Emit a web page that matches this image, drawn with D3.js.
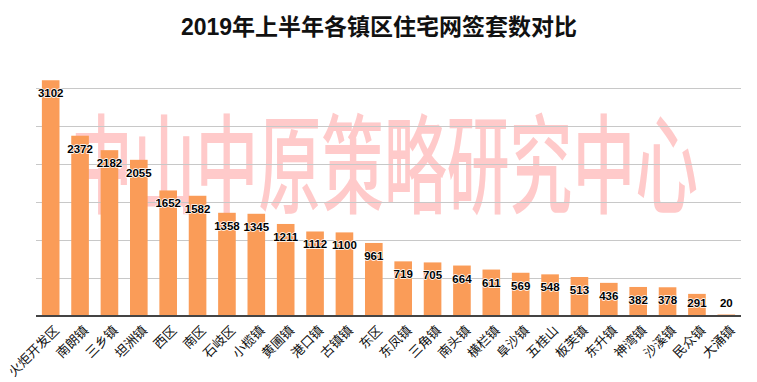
<!DOCTYPE html>
<html>
<head>
<meta charset="utf-8">
<script src="https://cdn.jsdelivr.net/npm/d3@7/dist/d3.min.js"></script>
<style>
  html, body { margin: 0; padding: 0; background: #fff; }
  svg { display: block; }
</style>
</head>
<body>
<script>
const title = "2019年上半年各镇区住宅网签套数对比";
const watermark = "中山中原策略研究中心";
const categories = ["火炬开发区","南朗镇","三乡镇","坦洲镇","西区","南区","石岐区","小榄镇","黄圃镇","港口镇","古镇镇","东区","东凤镇","三角镇","南头镇","横栏镇","阜沙镇","五桂山","板芙镇","东升镇","神湾镇","沙溪镇","民众镇","大涌镇"];
const values = [3102,2372,2182,2055,1652,1582,1358,1345,1211,1112,1100,961,719,705,664,611,569,548,513,436,382,378,291,20];
const gridTicks = [500,1000,1500,2000,2500,3000];

const W = 757, H = 382;
const svg = d3.select("body").append("svg").attr("width", W).attr("height", H);

const x = d3.scaleBand().domain(categories).range([36, 741]).paddingInner(0.4).paddingOuter(0.2);
const y = d3.scaleLinear().domain([0, 3500]).range([316, 50]);

// title
svg.append("text")
  .attr("x", 379).attr("y", 35)
  .attr("text-anchor", "middle")
  .attr("font-family", "'Liberation Sans','Noto Sans CJK SC',sans-serif")
  .attr("font-weight", "bold")
  .attr("font-size", 23)
  .attr("fill", "#111")
  .text(title);

// watermark
svg.append("text")
  .attr("x", 70).attr("y", 205)
  .attr("textLength", 628)
  .attr("lengthAdjust", "spacingAndGlyphs")
  .attr("font-family", "'Noto Sans CJK SC',sans-serif")
  .attr("font-weight", 500)
  .attr("font-size", 108)
  .attr("fill", "#ffcaca")
  .text(watermark);

// grid
svg.append("g").selectAll("line").data(gridTicks).join("line")
  .attr("x1", 36).attr("x2", 741)
  .attr("y1", d => Math.round(y(d)) + 0.5).attr("y2", d => Math.round(y(d)) + 0.5)
  .attr("stroke", "#c8c8c8").attr("stroke-width", 1);

// bars
svg.append("g").selectAll("rect").data(values).join("rect")
  .attr("x", (d, i) => x(categories[i]))
  .attr("width", x.bandwidth())
  .attr("y", d => y(d))
  .attr("height", d => y(0) - y(d))
  .attr("fill", "#fa9c58");

// axis line
svg.append("line")
  .attr("x1", 36).attr("x2", 741)
  .attr("y1", y(0)).attr("y2", y(0))
  .attr("stroke", "#444").attr("stroke-width", 2);

// value labels
svg.append("g").selectAll("text").data(values).join("text")
  .attr("x", (d, i) => x(categories[i]) + x.bandwidth() / 2)
  .attr("y", d => Math.min(y(d) + 17, 307))
  .attr("text-anchor", "middle")
  .attr("font-family", "'Liberation Sans',Arial,sans-serif")
  .attr("font-weight", "bold")
  .attr("font-size", 11.5)
  .attr("fill", "#000")
  .attr("stroke", "#fff").attr("stroke-width", 1.5).attr("paint-order", "stroke")
  .attr("stroke-linejoin", "round")
  .text(d => d);

// category labels
svg.append("g").selectAll("text").data(categories).join("text")
  .attr("transform", d => `translate(${x(d) + x.bandwidth() / 2 + 6},${y(0) + 12}) rotate(-45)`)
  .attr("text-anchor", "end")
  .attr("dy", "0.35em")
  .attr("font-family", "'Noto Sans CJK SC',sans-serif")
  .attr("font-size", 13)
  .attr("fill", "#111")
  .text(d => d);
</script>
</body>
</html>
